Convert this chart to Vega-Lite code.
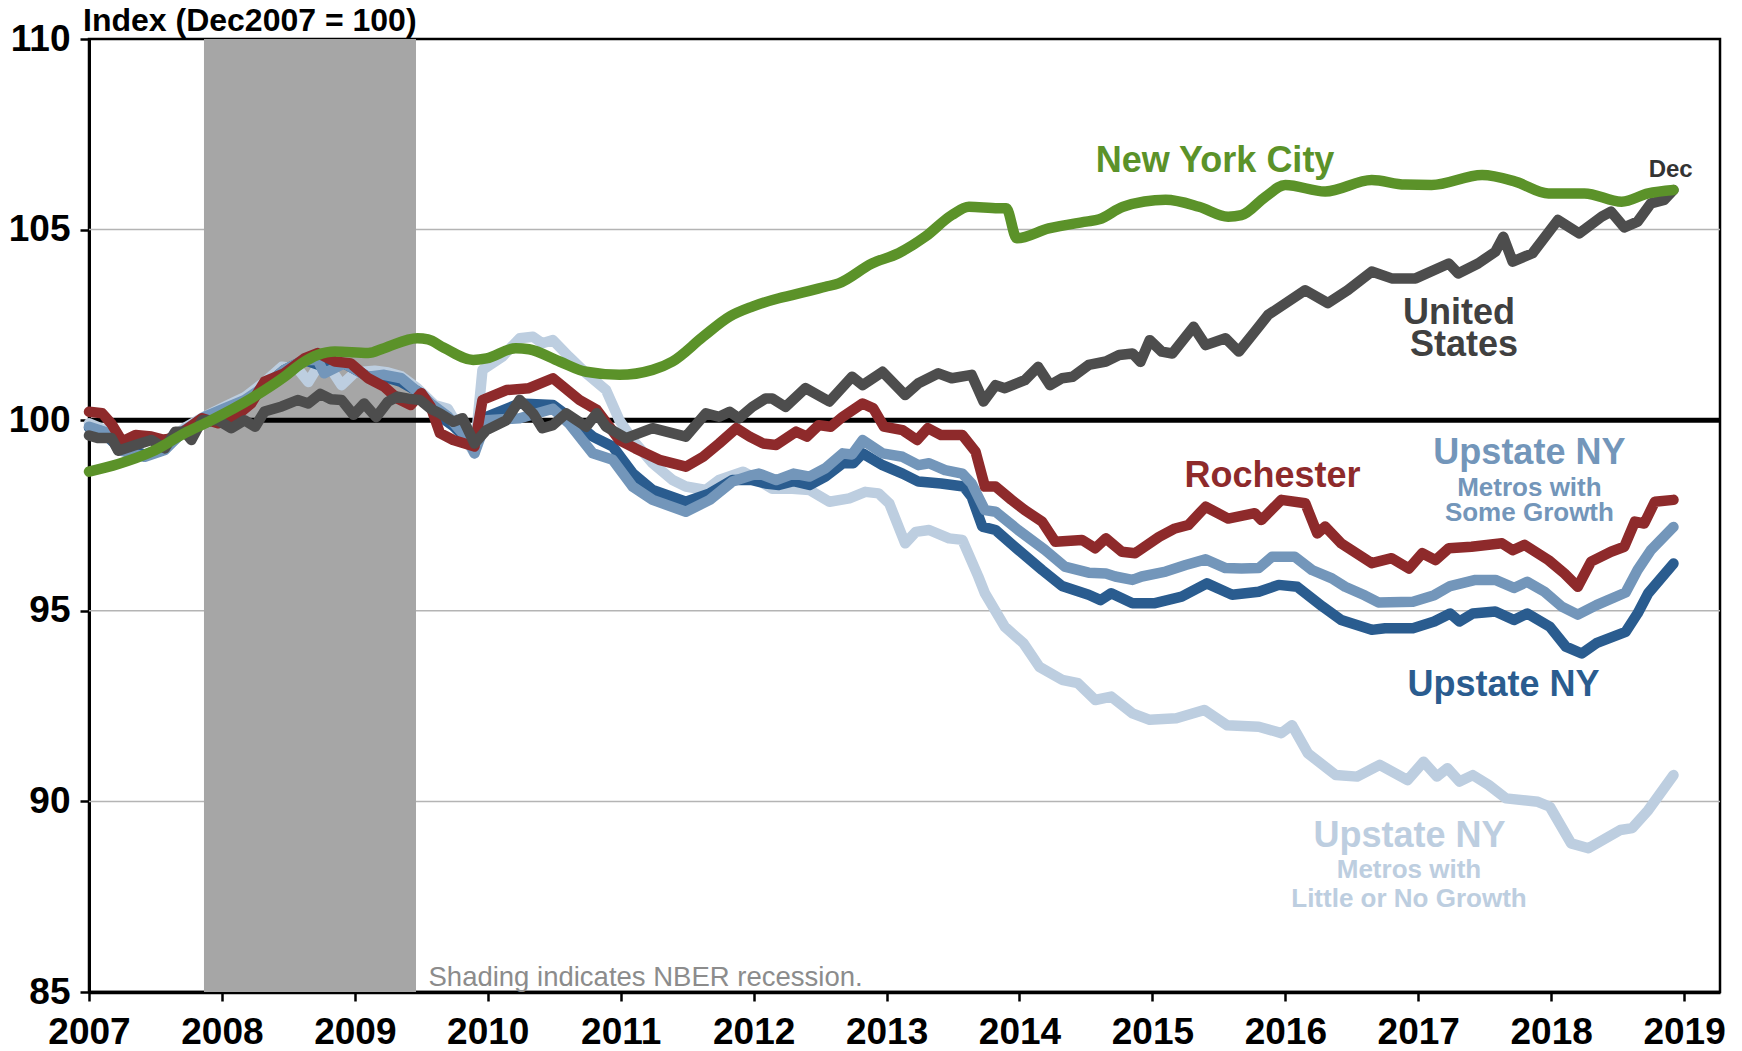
{
  "$schema": "https://vega.github.io/schema/vega-lite/v6.json",
  "width": 1631,
  "height": 953,
  "autosize": {"type": "none"},
  "padding": {"left": 89, "top": 39, "right": 22, "bottom": 59},
  "background": "white",
  "config": {
    "view": {"stroke": "black", "strokeWidth": 2.5},
    "font": "Liberation Sans",
    "axis": {"grid": false, "labelFont": "Liberation Sans", "labelFontSize": 37, "labelFontWeight": "bold", "labelColor": "black",
      "labelFlush": false, "labelOverlap": false, "tickColor": "black", "tickSize": 9, "tickWidth": 2.5, "domainColor": "black", "zindex": 1},
    "axisX": {"labelPadding": 13, "domainWidth": 3.5},
    "axisY": {"labelPadding": 10, "domainWidth": 3}
  },
  "datasets": {
    "nyc": [
      {"t":2007.0,"v":98.65},{"t":2007.22,"v":98.85},{"t":2007.47,"v":99.17},{"t":2007.72,"v":99.66},{"t":2007.92,"v":100.0},
      {"t":2008.22,"v":100.57},{"t":2008.47,"v":101.14},{"t":2008.6,"v":101.49},{"t":2008.72,"v":101.71},{"t":2008.85,"v":101.8},
      {"t":2009.1,"v":101.76},{"t":2009.22,"v":101.89},{"t":2009.47,"v":102.15},{"t":2009.55,"v":102.12},{"t":2009.67,"v":101.9},
      {"t":2009.89,"v":101.58},{"t":2009.99,"v":101.62},{"t":2010.21,"v":101.89},{"t":2010.31,"v":101.86},{"t":2010.54,"v":101.54},
      {"t":2010.74,"v":101.27},{"t":2010.99,"v":101.19},{"t":2011.24,"v":101.32},{"t":2011.39,"v":101.54},{"t":2011.62,"v":102.19},
      {"t":2011.82,"v":102.72},{"t":2011.99,"v":102.98},{"t":2012.19,"v":103.2},{"t":2012.29,"v":103.28},{"t":2012.54,"v":103.5},
      {"t":2012.64,"v":103.59},{"t":2012.89,"v":104.11},{"t":2013.09,"v":104.38},{"t":2013.29,"v":104.81},{"t":2013.49,"v":105.38},
      {"t":2013.62,"v":105.6},{"t":2013.84,"v":105.56},{"t":2013.9,"v":105.56},{"t":2013.98,"v":104.77},{"t":2014.22,"v":105.03},
      {"t":2014.5,"v":105.21},{"t":2014.6,"v":105.27},{"t":2014.78,"v":105.6},{"t":2015.1,"v":105.78},{"t":2015.35,"v":105.6},
      {"t":2015.57,"v":105.34},{"t":2015.67,"v":105.38},{"t":2015.85,"v":105.86},{"t":2016.0,"v":106.17},{"t":2016.3,"v":106.0},
      {"t":2016.65,"v":106.3},{"t":2016.9,"v":106.18},{"t":2017.1,"v":106.17},{"t":2017.48,"v":106.43},{"t":2017.73,"v":106.26},
      {"t":2017.98,"v":105.95},{"t":2018.25,"v":105.95},{"t":2018.53,"v":105.73},{"t":2018.73,"v":105.95},{"t":2018.92,"v":106.04}
    ],
    "us": [
      {"t":2007.0,"v":99.6},{"t":2007.07,"v":99.53},{"t":2007.17,"v":99.53},{"t":2007.22,"v":99.2},{"t":2007.35,"v":99.35},
      {"t":2007.47,"v":99.48},{"t":2007.57,"v":99.26},{"t":2007.65,"v":99.7},{"t":2007.72,"v":99.7},{"t":2007.77,"v":99.48},
      {"t":2007.85,"v":100.0},{"t":2007.97,"v":100.0},{"t":2008.07,"v":99.79},{"t":2008.17,"v":100.0},{"t":2008.25,"v":99.83},
      {"t":2008.32,"v":100.23},{"t":2008.45,"v":100.36},{"t":2008.57,"v":100.53},{"t":2008.65,"v":100.44},{"t":2008.74,"v":100.69},
      {"t":2008.82,"v":100.55},{"t":2008.9,"v":100.53},{"t":2008.99,"v":100.14},{"t":2009.07,"v":100.44},{"t":2009.16,"v":100.08},
      {"t":2009.25,"v":100.49},{"t":2009.32,"v":100.62},{"t":2009.41,"v":100.56},{"t":2009.49,"v":100.53},{"t":2009.57,"v":100.3},
      {"t":2009.64,"v":100.18},{"t":2009.74,"v":99.96},{"t":2009.81,"v":100.05},{"t":2009.9,"v":99.39},{"t":2009.99,"v":99.74},
      {"t":2010.14,"v":100.0},{"t":2010.24,"v":100.53},{"t":2010.34,"v":100.18},{"t":2010.41,"v":99.79},{"t":2010.49,"v":99.87},
      {"t":2010.59,"v":100.18},{"t":2010.74,"v":99.83},{"t":2010.82,"v":100.18},{"t":2010.89,"v":99.83},{"t":2011.04,"v":99.53},
      {"t":2011.24,"v":99.79},{"t":2011.49,"v":99.57},{"t":2011.64,"v":100.18},{"t":2011.74,"v":100.09},{"t":2011.82,"v":100.22},
      {"t":2011.89,"v":100.05},{"t":2011.99,"v":100.35},{"t":2012.09,"v":100.57},{"t":2012.14,"v":100.57},{"t":2012.24,"v":100.35},
      {"t":2012.39,"v":100.84},{"t":2012.57,"v":100.49},{"t":2012.74,"v":101.14},{"t":2012.82,"v":100.92},{"t":2012.97,"v":101.27},
      {"t":2013.14,"v":100.66},{"t":2013.24,"v":100.97},{"t":2013.39,"v":101.23},{"t":2013.49,"v":101.1},{"t":2013.64,"v":101.19},
      {"t":2013.73,"v":100.49},{"t":2013.82,"v":100.92},{"t":2013.89,"v":100.84},{"t":2014.04,"v":101.05},{"t":2014.14,"v":101.4},
      {"t":2014.23,"v":100.92},{"t":2014.32,"v":101.1},{"t":2014.4,"v":101.14},{"t":2014.52,"v":101.45},{"t":2014.65,"v":101.54},
      {"t":2014.75,"v":101.71},{"t":2014.85,"v":101.75},{"t":2014.91,"v":101.53},{"t":2014.98,"v":102.1},{"t":2015.07,"v":101.8},
      {"t":2015.15,"v":101.75},{"t":2015.31,"v":102.45},{"t":2015.4,"v":101.97},{"t":2015.55,"v":102.15},{"t":2015.65,"v":101.8},
      {"t":2015.77,"v":102.32},{"t":2015.87,"v":102.76},{"t":2016.15,"v":103.41},{"t":2016.32,"v":103.07},{"t":2016.47,"v":103.41},
      {"t":2016.65,"v":103.9},{"t":2016.8,"v":103.72},{"t":2016.98,"v":103.72},{"t":2017.23,"v":104.11},{"t":2017.3,"v":103.85},
      {"t":2017.45,"v":104.11},{"t":2017.58,"v":104.42},{"t":2017.64,"v":104.81},{"t":2017.71,"v":104.16},{"t":2017.86,"v":104.38},
      {"t":2018.05,"v":105.25},{"t":2018.21,"v":104.9},{"t":2018.38,"v":105.34},{"t":2018.45,"v":105.47},{"t":2018.55,"v":105.06},
      {"t":2018.65,"v":105.21},{"t":2018.75,"v":105.69},{"t":2018.85,"v":105.78},{"t":2018.92,"v":106.04}
    ],
    "roc": [
      {"t":2007.0,"v":100.22},{"t":2007.1,"v":100.18},{"t":2007.17,"v":99.9},{"t":2007.25,"v":99.44},{"t":2007.35,"v":99.61},
      {"t":2007.47,"v":99.57},{"t":2007.57,"v":99.48},{"t":2007.67,"v":99.6},{"t":2007.85,"v":100.05},{"t":2007.97,"v":99.92},
      {"t":2008.1,"v":100.09},{"t":2008.22,"v":100.44},{"t":2008.32,"v":101.01},{"t":2008.47,"v":101.23},{"t":2008.62,"v":101.62},
      {"t":2008.72,"v":101.76},{"t":2008.85,"v":101.54},{"t":2008.97,"v":101.49},{"t":2009.1,"v":101.1},{"t":2009.22,"v":100.88},
      {"t":2009.32,"v":100.57},{"t":2009.42,"v":100.4},{"t":2009.5,"v":100.71},{"t":2009.57,"v":100.36},{"t":2009.64,"v":99.66},
      {"t":2009.74,"v":99.48},{"t":2009.9,"v":99.31},{"t":2009.96,"v":100.53},{"t":2010.14,"v":100.79},{"t":2010.31,"v":100.84},
      {"t":2010.49,"v":101.1},{"t":2010.69,"v":100.53},{"t":2010.82,"v":100.27},{"t":2010.99,"v":99.48},{"t":2011.11,"v":99.26},
      {"t":2011.29,"v":98.96},{"t":2011.49,"v":98.78},{"t":2011.62,"v":99.04},{"t":2011.74,"v":99.39},{"t":2011.87,"v":99.79},
      {"t":2011.97,"v":99.57},{"t":2012.07,"v":99.39},{"t":2012.17,"v":99.35},{"t":2012.32,"v":99.7},{"t":2012.4,"v":99.57},
      {"t":2012.49,"v":99.87},{"t":2012.58,"v":99.83},{"t":2012.67,"v":100.09},{"t":2012.82,"v":100.44},{"t":2012.9,"v":100.31},
      {"t":2012.98,"v":99.83},{"t":2013.12,"v":99.74},{"t":2013.23,"v":99.48},{"t":2013.31,"v":99.79},{"t":2013.41,"v":99.61},
      {"t":2013.57,"v":99.61},{"t":2013.67,"v":99.17},{"t":2013.74,"v":98.26},{"t":2013.82,"v":98.26},{"t":2013.94,"v":97.91},
      {"t":2014.04,"v":97.64},{"t":2014.17,"v":97.34},{"t":2014.27,"v":96.81},{"t":2014.47,"v":96.86},{"t":2014.57,"v":96.64},
      {"t":2014.65,"v":96.9},{"t":2014.77,"v":96.55},{"t":2014.87,"v":96.51},{"t":2015.05,"v":96.94},{"t":2015.17,"v":97.16},
      {"t":2015.27,"v":97.25},{"t":2015.4,"v":97.73},{"t":2015.57,"v":97.42},{"t":2015.77,"v":97.56},{"t":2015.82,"v":97.38},
      {"t":2015.97,"v":97.91},{"t":2016.15,"v":97.82},{"t":2016.24,"v":97.03},{"t":2016.3,"v":97.21},{"t":2016.42,"v":96.77},
      {"t":2016.65,"v":96.25},{"t":2016.8,"v":96.38},{"t":2016.93,"v":96.11},{"t":2017.03,"v":96.51},{"t":2017.13,"v":96.33},
      {"t":2017.23,"v":96.64},{"t":2017.4,"v":96.68},{"t":2017.63,"v":96.77},{"t":2017.71,"v":96.59},{"t":2017.8,"v":96.73},
      {"t":2017.98,"v":96.33},{"t":2018.1,"v":95.98},{"t":2018.2,"v":95.63},{"t":2018.3,"v":96.29},{"t":2018.45,"v":96.55},
      {"t":2018.55,"v":96.68},{"t":2018.63,"v":97.34},{"t":2018.7,"v":97.29},{"t":2018.78,"v":97.86},{"t":2018.92,"v":97.91}
    ],
    "up": [
      {"t":2007.0,"v":99.8},{"t":2007.1,"v":99.7},{"t":2007.22,"v":99.3},{"t":2007.42,"v":99.1},{"t":2007.57,"v":99.25},
      {"t":2007.72,"v":99.74},{"t":2007.97,"v":100.05},{"t":2008.17,"v":100.45},{"t":2008.32,"v":100.88},{"t":2008.47,"v":101.32},
      {"t":2008.62,"v":101.58},{"t":2008.77,"v":101.4},{"t":2008.92,"v":101.49},{"t":2009.1,"v":101.14},{"t":2009.22,"v":101.14},
      {"t":2009.35,"v":101.0},{"t":2009.5,"v":100.7},{"t":2009.64,"v":100.1},{"t":2009.74,"v":99.85},{"t":2009.9,"v":99.31},
      {"t":2009.99,"v":100.09},{"t":2010.24,"v":100.44},{"t":2010.49,"v":100.4},{"t":2010.61,"v":100.09},{"t":2010.79,"v":99.57},
      {"t":2010.94,"v":99.31},{"t":2011.09,"v":98.61},{"t":2011.24,"v":98.17},{"t":2011.49,"v":97.86},{"t":2011.67,"v":98.08},
      {"t":2011.84,"v":98.43},{"t":2011.99,"v":98.43},{"t":2012.09,"v":98.34},{"t":2012.19,"v":98.3},{"t":2012.3,"v":98.4},
      {"t":2012.42,"v":98.3},{"t":2012.54,"v":98.52},{"t":2012.67,"v":98.87},{"t":2012.75,"v":98.87},{"t":2012.82,"v":99.13},
      {"t":2012.97,"v":98.82},{"t":2013.12,"v":98.6},{"t":2013.24,"v":98.39},{"t":2013.41,"v":98.34},{"t":2013.58,"v":98.26},
      {"t":2013.64,"v":97.99},{"t":2013.72,"v":97.21},{"t":2013.82,"v":97.12},{"t":2013.99,"v":96.6},{"t":2014.17,"v":96.07},
      {"t":2014.32,"v":95.65},{"t":2014.52,"v":95.42},{"t":2014.61,"v":95.28},{"t":2014.69,"v":95.46},{"t":2014.85,"v":95.2},
      {"t":2015.02,"v":95.2},{"t":2015.22,"v":95.37},{"t":2015.41,"v":95.72},{"t":2015.6,"v":95.42},{"t":2015.8,"v":95.5},
      {"t":2015.95,"v":95.68},{"t":2016.09,"v":95.63},{"t":2016.28,"v":95.11},{"t":2016.42,"v":94.76},{"t":2016.65,"v":94.5},
      {"t":2016.75,"v":94.54},{"t":2016.96,"v":94.54},{"t":2017.12,"v":94.72},{"t":2017.24,"v":94.93},{"t":2017.31,"v":94.72},
      {"t":2017.41,"v":94.93},{"t":2017.58,"v":94.98},{"t":2017.72,"v":94.76},{"t":2017.82,"v":94.93},{"t":2017.99,"v":94.58},
      {"t":2018.11,"v":94.06},{"t":2018.23,"v":93.88},{"t":2018.34,"v":94.15},{"t":2018.56,"v":94.45},{"t":2018.65,"v":94.93},
      {"t":2018.73,"v":95.46},{"t":2018.92,"v":96.24}
    ],
    "sg": [
      {"t":2007.0,"v":99.83},{"t":2007.15,"v":99.66},{"t":2007.22,"v":99.22},{"t":2007.42,"v":99.04},{"t":2007.57,"v":99.22},
      {"t":2007.72,"v":99.74},{"t":2007.87,"v":100.09},{"t":2008.02,"v":100.31},{"t":2008.17,"v":100.53},{"t":2008.32,"v":100.88},
      {"t":2008.47,"v":101.32},{"t":2008.62,"v":101.58},{"t":2008.72,"v":101.58},{"t":2008.77,"v":101.23},{"t":2008.92,"v":101.49},
      {"t":2009.1,"v":101.14},{"t":2009.22,"v":101.19},{"t":2009.35,"v":101.1},{"t":2009.47,"v":100.75},{"t":2009.57,"v":100.44},
      {"t":2009.7,"v":100.1},{"t":2009.85,"v":99.5},{"t":2009.9,"v":99.13},{"t":2009.99,"v":100.0},{"t":2010.24,"v":100.05},
      {"t":2010.49,"v":100.3},{"t":2010.61,"v":99.92},{"t":2010.79,"v":99.13},{"t":2010.94,"v":98.96},{"t":2011.09,"v":98.26},
      {"t":2011.24,"v":97.91},{"t":2011.49,"v":97.6},{"t":2011.67,"v":97.91},{"t":2011.84,"v":98.39},{"t":2011.99,"v":98.56},
      {"t":2012.04,"v":98.6},{"t":2012.17,"v":98.43},{"t":2012.3,"v":98.6},{"t":2012.42,"v":98.52},{"t":2012.54,"v":98.74},
      {"t":2012.67,"v":99.13},{"t":2012.74,"v":99.1},{"t":2012.82,"v":99.48},{"t":2012.97,"v":99.13},{"t":2013.12,"v":99.04},
      {"t":2013.24,"v":98.82},{"t":2013.32,"v":98.87},{"t":2013.44,"v":98.69},{"t":2013.57,"v":98.6},{"t":2013.64,"v":98.34},
      {"t":2013.74,"v":97.64},{"t":2013.82,"v":97.6},{"t":2013.99,"v":97.12},{"t":2014.19,"v":96.6},{"t":2014.34,"v":96.16},
      {"t":2014.52,"v":96.0},{"t":2014.65,"v":95.98},{"t":2014.72,"v":95.9},{"t":2014.85,"v":95.81},{"t":2014.92,"v":95.9},
      {"t":2015.1,"v":96.03},{"t":2015.25,"v":96.2},{"t":2015.4,"v":96.35},{"t":2015.55,"v":96.12},{"t":2015.67,"v":96.11},
      {"t":2015.8,"v":96.12},{"t":2015.9,"v":96.42},{"t":2016.07,"v":96.42},{"t":2016.2,"v":96.07},{"t":2016.35,"v":95.85},
      {"t":2016.45,"v":95.63},{"t":2016.6,"v":95.4},{"t":2016.7,"v":95.22},{"t":2016.96,"v":95.24},{"t":2017.12,"v":95.41},
      {"t":2017.24,"v":95.65},{"t":2017.43,"v":95.81},{"t":2017.58,"v":95.81},{"t":2017.72,"v":95.6},{"t":2017.82,"v":95.76},
      {"t":2017.95,"v":95.5},{"t":2018.08,"v":95.11},{"t":2018.2,"v":94.9},{"t":2018.34,"v":95.15},{"t":2018.56,"v":95.48},
      {"t":2018.65,"v":96.07},{"t":2018.75,"v":96.59},{"t":2018.92,"v":97.2}
    ],
    "lg": [
      {"t":2007.0,"v":99.92},{"t":2007.15,"v":99.7},{"t":2007.22,"v":99.3},{"t":2007.42,"v":99.1},{"t":2007.57,"v":99.3},
      {"t":2007.72,"v":99.8},{"t":2007.87,"v":100.1},{"t":2008.02,"v":100.35},{"t":2008.17,"v":100.6},{"t":2008.32,"v":101.0},
      {"t":2008.45,"v":101.4},{"t":2008.57,"v":101.35},{"t":2008.65,"v":101.0},{"t":2008.72,"v":101.4},{"t":2008.8,"v":101.45},
      {"t":2008.9,"v":100.92},{"t":2009.0,"v":101.25},{"t":2009.15,"v":101.3},{"t":2009.25,"v":101.25},{"t":2009.35,"v":101.15},
      {"t":2009.47,"v":100.84},{"t":2009.6,"v":100.4},{"t":2009.7,"v":100.3},{"t":2009.8,"v":99.7},{"t":2009.9,"v":99.13},
      {"t":2009.96,"v":101.32},{"t":2010.11,"v":101.67},{"t":2010.24,"v":102.15},{"t":2010.34,"v":102.19},{"t":2010.41,"v":102.02},
      {"t":2010.49,"v":102.1},{"t":2010.61,"v":101.67},{"t":2010.74,"v":101.23},{"t":2010.89,"v":100.79},{"t":2010.99,"v":100.0},
      {"t":2011.09,"v":99.48},{"t":2011.24,"v":98.87},{"t":2011.39,"v":98.43},{"t":2011.49,"v":98.26},{"t":2011.64,"v":98.17},
      {"t":2011.74,"v":98.43},{"t":2011.92,"v":98.65},{"t":2011.99,"v":98.52},{"t":2012.14,"v":98.2},{"t":2012.29,"v":98.2},
      {"t":2012.42,"v":98.17},{"t":2012.57,"v":97.86},{"t":2012.72,"v":97.95},{"t":2012.84,"v":98.12},{"t":2012.94,"v":98.08},
      {"t":2013.02,"v":97.82},{"t":2013.14,"v":96.77},{"t":2013.22,"v":97.07},{"t":2013.32,"v":97.12},{"t":2013.47,"v":96.9},
      {"t":2013.57,"v":96.86},{"t":2013.69,"v":95.9},{"t":2013.74,"v":95.46},{"t":2013.89,"v":94.58},{"t":2014.03,"v":94.15},
      {"t":2014.15,"v":93.53},{"t":2014.32,"v":93.19},{"t":2014.44,"v":93.1},{"t":2014.57,"v":92.66},{"t":2014.69,"v":92.75},
      {"t":2014.85,"v":92.31},{"t":2014.98,"v":92.14},{"t":2015.18,"v":92.18},{"t":2015.39,"v":92.4},{"t":2015.56,"v":92.0},
      {"t":2015.8,"v":91.96},{"t":2015.97,"v":91.79},{"t":2016.05,"v":92.0},{"t":2016.17,"v":91.26},{"t":2016.38,"v":90.69},
      {"t":2016.54,"v":90.65},{"t":2016.71,"v":90.96},{"t":2016.92,"v":90.56},{"t":2017.04,"v":91.04},{"t":2017.14,"v":90.65},
      {"t":2017.22,"v":90.87},{"t":2017.31,"v":90.52},{"t":2017.41,"v":90.69},{"t":2017.53,"v":90.43},{"t":2017.66,"v":90.08},
      {"t":2017.9,"v":89.99},{"t":2017.99,"v":89.86},{"t":2018.15,"v":88.9},{"t":2018.28,"v":88.77},{"t":2018.52,"v":89.25},
      {"t":2018.61,"v":89.3},{"t":2018.73,"v":89.77},{"t":2018.92,"v":90.69}
    ],
    "labels": [
      {"label": "New York City", "t": 2015.471, "v": 106.52, "series": "nyc", "size": "big"},
      {"label": "Dec", "t": 2018.899, "v": 106.39, "series": "dec", "size": "small"},
      {"label": "United", "t": 2017.306, "v": 102.52, "series": "us", "size": "big"},
      {"label": "States", "t": 2017.344, "v": 101.68, "series": "us", "size": "big"},
      {"label": "Rochester", "t": 2015.904, "v": 98.26, "series": "roc", "size": "big"},
      {"label": "Upstate NY", "t": 2017.836, "v": 98.85, "series": "sg", "size": "big"},
      {"label": "Metros with", "t": 2017.836, "v": 98.01, "series": "sg", "size": "mid"},
      {"label": "Some Growth", "t": 2017.836, "v": 97.36, "series": "sg", "size": "mid"},
      {"label": "Upstate NY", "t": 2017.642, "v": 92.76, "series": "up", "size": "big"},
      {"label": "Upstate NY", "t": 2016.934, "v": 88.81, "series": "lg", "size": "big"},
      {"label": "Metros with", "t": 2016.93, "v": 87.98, "series": "lg", "size": "mid"},
      {"label": "Little or No Growth", "t": 2016.93, "v": 87.22, "series": "lg", "size": "mid"},
      {"label": "Index (Dec2007 = 100)", "t": 2007.0, "v": 110.21, "series": "title", "size": "title"},
      {"label": "Shading indicates NBER recession.", "t": 2009.554, "v": 85.17, "series": "note", "size": "note"}
    ]
  },
  "layer": [
    {
      "data": {"values": [{"g": 90}, {"g": 95}, {"g": 105}]},
      "mark": {"type": "rule", "color": "#B4B4B4", "strokeWidth": 1.5},
      "encoding": {"y": {"field": "g", "type": "quantitative", "scale": {"domain": [85, 110], "nice": false, "zero": false}, "axis": {"values": [85, 90, 95, 100, 105, 110], "title": null}}}
    },
    {
      "data": {"values": [{"start": 2007.865, "end": 2009.46}]},
      "mark": {"type": "rect", "color": "#A6A6A6"},
      "encoding": {
        "x": {"field": "start", "type": "quantitative", "scale": {"domain": [2007, 2019.27], "nice": false, "zero": false}, "axis": {"values": [2007, 2008, 2009, 2010, 2011, 2012, 2013, 2014, 2015, 2016, 2017, 2018, 2019], "format": "d", "title": null}},
        "x2": {"field": "end"},
        "y": {"datum": 85, "type": "quantitative", "scale": {"domain": [85, 110], "nice": false, "zero": false}, "axis": {"values": [85, 90, 95, 100, 105, 110], "title": null}},
        "y2": {"datum": 110}
      }
    },
    {
      "data": {"values": [{"b": 100}]},
      "mark": {"type": "rule", "color": "black", "strokeWidth": 5},
      "encoding": {"y": {"field": "b", "type": "quantitative", "scale": {"domain": [85, 110], "nice": false, "zero": false}, "axis": {"values": [85, 90, 95, 100, 105, 110], "title": null}}}
    },
    {
      "data": {"name": "lg"},
      "mark": {"type": "line", "color": "#BDCEE0", "strokeWidth": 10.5, "strokeJoin": "round", "strokeCap": "round"},
      "encoding": {
        "x": {"field": "t", "type": "quantitative", "scale": {"domain": [2007, 2019.27], "nice": false, "zero": false}, "axis": {"values": [2007, 2008, 2009, 2010, 2011, 2012, 2013, 2014, 2015, 2016, 2017, 2018, 2019], "format": "d", "title": null}},
        "y": {"field": "v", "type": "quantitative", "scale": {"domain": [85, 110], "nice": false, "zero": false}, "axis": {"values": [85, 90, 95, 100, 105, 110], "title": null}}
      }
    },
    {
      "data": {"name": "up"},
      "mark": {"type": "line", "color": "#2A5C8F", "strokeWidth": 10.5, "strokeJoin": "round", "strokeCap": "round"},
      "encoding": {
        "x": {"field": "t", "type": "quantitative", "scale": {"domain": [2007, 2019.27], "nice": false, "zero": false}, "axis": {"values": [2007, 2008, 2009, 2010, 2011, 2012, 2013, 2014, 2015, 2016, 2017, 2018, 2019], "format": "d", "title": null}},
        "y": {"field": "v", "type": "quantitative", "scale": {"domain": [85, 110], "nice": false, "zero": false}, "axis": {"values": [85, 90, 95, 100, 105, 110], "title": null}}
      }
    },
    {
      "data": {"name": "sg"},
      "mark": {"type": "line", "color": "#7396BA", "strokeWidth": 10.5, "strokeJoin": "round", "strokeCap": "round"},
      "encoding": {
        "x": {"field": "t", "type": "quantitative", "scale": {"domain": [2007, 2019.27], "nice": false, "zero": false}, "axis": {"values": [2007, 2008, 2009, 2010, 2011, 2012, 2013, 2014, 2015, 2016, 2017, 2018, 2019], "format": "d", "title": null}},
        "y": {"field": "v", "type": "quantitative", "scale": {"domain": [85, 110], "nice": false, "zero": false}, "axis": {"values": [85, 90, 95, 100, 105, 110], "title": null}}
      }
    },
    {
      "data": {"name": "roc"},
      "mark": {"type": "line", "color": "#8E2A2B", "strokeWidth": 10.5, "strokeJoin": "round", "strokeCap": "round"},
      "encoding": {
        "x": {"field": "t", "type": "quantitative", "scale": {"domain": [2007, 2019.27], "nice": false, "zero": false}, "axis": {"values": [2007, 2008, 2009, 2010, 2011, 2012, 2013, 2014, 2015, 2016, 2017, 2018, 2019], "format": "d", "title": null}},
        "y": {"field": "v", "type": "quantitative", "scale": {"domain": [85, 110], "nice": false, "zero": false}, "axis": {"values": [85, 90, 95, 100, 105, 110], "title": null}}
      }
    },
    {
      "data": {"name": "us"},
      "mark": {"type": "line", "color": "#4D4D4D", "strokeWidth": 10.5, "strokeJoin": "round", "strokeCap": "round"},
      "encoding": {
        "x": {"field": "t", "type": "quantitative", "scale": {"domain": [2007, 2019.27], "nice": false, "zero": false}, "axis": {"values": [2007, 2008, 2009, 2010, 2011, 2012, 2013, 2014, 2015, 2016, 2017, 2018, 2019], "format": "d", "title": null}},
        "y": {"field": "v", "type": "quantitative", "scale": {"domain": [85, 110], "nice": false, "zero": false}, "axis": {"values": [85, 90, 95, 100, 105, 110], "title": null}}
      }
    },
    {
      "data": {"name": "nyc"},
      "mark": {"type": "line", "color": "#5B9229", "strokeWidth": 10.5, "strokeJoin": "round", "strokeCap": "round", "interpolate": "monotone"},
      "encoding": {
        "x": {"field": "t", "type": "quantitative", "scale": {"domain": [2007, 2019.27], "nice": false, "zero": false}, "axis": {"values": [2007, 2008, 2009, 2010, 2011, 2012, 2013, 2014, 2015, 2016, 2017, 2018, 2019], "format": "d", "title": null}},
        "y": {"field": "v", "type": "quantitative", "scale": {"domain": [85, 110], "nice": false, "zero": false}, "axis": {"values": [85, 90, 95, 100, 105, 110], "title": null}}
      }
    },
    {
      "data": {"name": "labels"},
      "transform": [{"filter": "datum.size === 'big'"}],
      "mark": {"type": "text", "font": "Liberation Sans", "fontSize": 36, "fontWeight": "bold", "align": "center", "baseline": "alphabetic"},
      "encoding": {
        "text": {"field": "label"},
        "x": {"field": "t", "type": "quantitative", "scale": {"domain": [2007, 2019.27], "nice": false, "zero": false}, "axis": {"values": [2007, 2008, 2009, 2010, 2011, 2012, 2013, 2014, 2015, 2016, 2017, 2018, 2019], "format": "d", "title": null}},
        "y": {"field": "v", "type": "quantitative", "scale": {"domain": [85, 110], "nice": false, "zero": false}, "axis": {"values": [85, 90, 95, 100, 105, 110], "title": null}},
        "color": {"field": "series", "type": "nominal", "legend": null,
          "scale": {"domain": ["nyc", "dec", "us", "roc", "sg", "up", "lg", "title", "note"], "range": ["#5B9229", "#333333", "#404040", "#8E2A2B", "#7396BA", "#2A5C8F", "#BDCEE0", "#000000", "#8C8C8C"]}}
      }
    },
    {
      "data": {"name": "labels"},
      "transform": [{"filter": "datum.size === 'mid'"}],
      "mark": {"type": "text", "font": "Liberation Sans", "fontSize": 26, "fontWeight": "bold", "align": "center", "baseline": "alphabetic"},
      "encoding": {
        "text": {"field": "label"},
        "x": {"field": "t", "type": "quantitative", "scale": {"domain": [2007, 2019.27], "nice": false, "zero": false}, "axis": {"values": [2007, 2008, 2009, 2010, 2011, 2012, 2013, 2014, 2015, 2016, 2017, 2018, 2019], "format": "d", "title": null}},
        "y": {"field": "v", "type": "quantitative", "scale": {"domain": [85, 110], "nice": false, "zero": false}, "axis": {"values": [85, 90, 95, 100, 105, 110], "title": null}},
        "color": {"field": "series", "type": "nominal", "legend": null,
          "scale": {"domain": ["nyc", "dec", "us", "roc", "sg", "up", "lg", "title", "note"], "range": ["#5B9229", "#333333", "#404040", "#8E2A2B", "#7396BA", "#2A5C8F", "#BDCEE0", "#000000", "#8C8C8C"]}}
      }
    },
    {
      "data": {"name": "labels"},
      "transform": [{"filter": "datum.size === 'small'"}],
      "mark": {"type": "text", "font": "Liberation Sans", "fontSize": 24, "fontWeight": "bold", "align": "center", "baseline": "alphabetic"},
      "encoding": {
        "text": {"field": "label"},
        "x": {"field": "t", "type": "quantitative", "scale": {"domain": [2007, 2019.27], "nice": false, "zero": false}, "axis": {"values": [2007, 2008, 2009, 2010, 2011, 2012, 2013, 2014, 2015, 2016, 2017, 2018, 2019], "format": "d", "title": null}},
        "y": {"field": "v", "type": "quantitative", "scale": {"domain": [85, 110], "nice": false, "zero": false}, "axis": {"values": [85, 90, 95, 100, 105, 110], "title": null}},
        "color": {"field": "series", "type": "nominal", "legend": null,
          "scale": {"domain": ["nyc", "dec", "us", "roc", "sg", "up", "lg", "title", "note"], "range": ["#5B9229", "#333333", "#404040", "#8E2A2B", "#7396BA", "#2A5C8F", "#BDCEE0", "#000000", "#8C8C8C"]}}
      }
    },
    {
      "data": {"name": "labels"},
      "transform": [{"filter": "datum.size === 'title'"}],
      "mark": {"type": "text", "font": "Liberation Sans", "fontSize": 32, "fontWeight": "bold", "align": "left", "baseline": "alphabetic", "dx": -6},
      "encoding": {
        "text": {"field": "label"},
        "x": {"field": "t", "type": "quantitative", "scale": {"domain": [2007, 2019.27], "nice": false, "zero": false}, "axis": {"values": [2007, 2008, 2009, 2010, 2011, 2012, 2013, 2014, 2015, 2016, 2017, 2018, 2019], "format": "d", "title": null}},
        "y": {"field": "v", "type": "quantitative", "scale": {"domain": [85, 110], "nice": false, "zero": false}, "axis": {"values": [85, 90, 95, 100, 105, 110], "title": null}},
        "color": {"field": "series", "type": "nominal", "legend": null,
          "scale": {"domain": ["nyc", "dec", "us", "roc", "sg", "up", "lg", "title", "note"], "range": ["#5B9229", "#333333", "#404040", "#8E2A2B", "#7396BA", "#2A5C8F", "#BDCEE0", "#000000", "#8C8C8C"]}}
      }
    },
    {
      "data": {"name": "labels"},
      "transform": [{"filter": "datum.size === 'note'"}],
      "mark": {"type": "text", "font": "Liberation Sans", "fontSize": 27.5, "fontWeight": "normal", "align": "left", "baseline": "alphabetic"},
      "encoding": {
        "text": {"field": "label"},
        "x": {"field": "t", "type": "quantitative", "scale": {"domain": [2007, 2019.27], "nice": false, "zero": false}, "axis": {"values": [2007, 2008, 2009, 2010, 2011, 2012, 2013, 2014, 2015, 2016, 2017, 2018, 2019], "format": "d", "title": null}},
        "y": {"field": "v", "type": "quantitative", "scale": {"domain": [85, 110], "nice": false, "zero": false}, "axis": {"values": [85, 90, 95, 100, 105, 110], "title": null}},
        "color": {"field": "series", "type": "nominal", "legend": null,
          "scale": {"domain": ["nyc", "dec", "us", "roc", "sg", "up", "lg", "title", "note"], "range": ["#5B9229", "#333333", "#404040", "#8E2A2B", "#7396BA", "#2A5C8F", "#BDCEE0", "#000000", "#8C8C8C"]}}
      }
    }
  ]
}
